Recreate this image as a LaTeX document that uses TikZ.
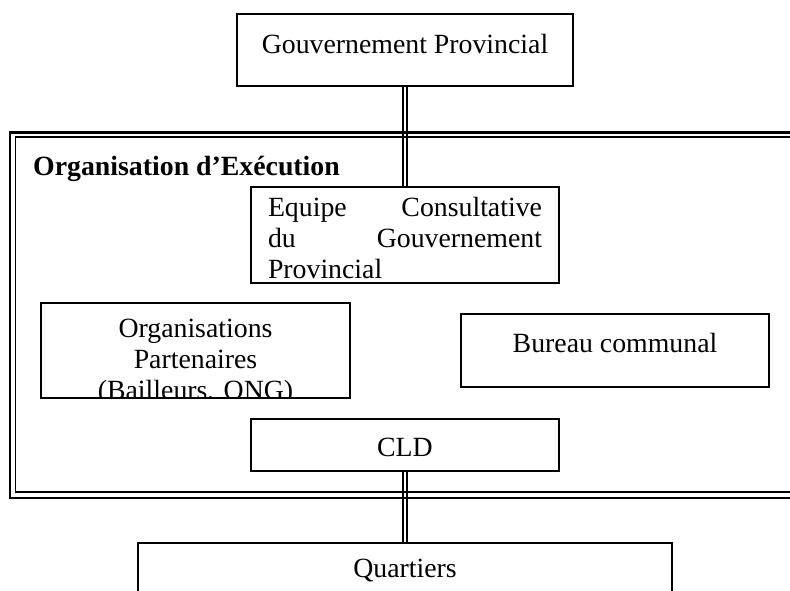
\documentclass[tikz,border=0pt]{standalone}
\usepackage{fontspec}
\setmainfont{Liberation Serif}
\usepackage{tikz}

\newcommand{\policeboite}{\fontsize{27.8}{31}\selectfont}
\tikzset{
    boite/.style={draw, line width=1.3pt, inner sep=0pt, font=\policeboite},
    lien/.style={line width=1.6pt},
}

\begin{document}
\begin{tikzpicture}[x=1pt, y=-1pt]
    \useasboundingbox (0,0) rectangle (790,590);

    % cadre double : organisation d'execution
    \draw[line width=2.2pt] (9.8,132.5) rectangle (800,497.8);
    \draw[line width=1.5pt] (15.3,137.2) rectangle (800,492);
    \node[anchor=base west, inner sep=0pt, font=\policeboite\bfseries] (titre) at (33,175) {Organisation d’Exécution};

    % boites
    \node[boite, minimum width=336pt, minimum height=72pt, text height=19pt, text depth=13pt] (gouv) at (405,50) {Gouvernement Provincial};
    \node[boite, minimum width=308pt, minimum height=96pt, text width=274pt, align=left, text height=26pt] (equipe) at (405,235) {Equipe\hfill Consultative\\du\hfill Gouvernement\\Provincial};
    \node[boite, minimum width=309pt, minimum height=95pt,
        path picture={\node[draw=none, text width=300pt, align=center, inner sep=0pt, font=\policeboite, text height=41pt] (orgatxt) at (path picture bounding box.center) {Organisations\\Partenaires\\(Bailleurs, ONG)};}] (orga) at (195.5,350.5) {};
    \node[boite, minimum width=308pt, minimum height=73pt, text height=19pt, text depth=16pt] (bureau) at (615,350.5) {Bureau communal};
    \node[boite, minimum width=308pt, minimum height=52pt, text height=22pt, text depth=0pt] (cld) at (405,445) {CLD};
    \node[boite, minimum width=534pt, minimum height=54pt, text height=19pt, text depth=5pt] (quart) at (405,570) {Quartiers};

    % liaisons doubles
    \foreach \s in {-2.2pt, 2.2pt} {
        \draw[lien] ([xshift=\s]gouv.south) -- ([xshift=\s]equipe.north);
        \draw[lien] ([xshift=\s]cld.south) -- ([xshift=\s]quart.north);
    }
\end{tikzpicture}
\end{document}
